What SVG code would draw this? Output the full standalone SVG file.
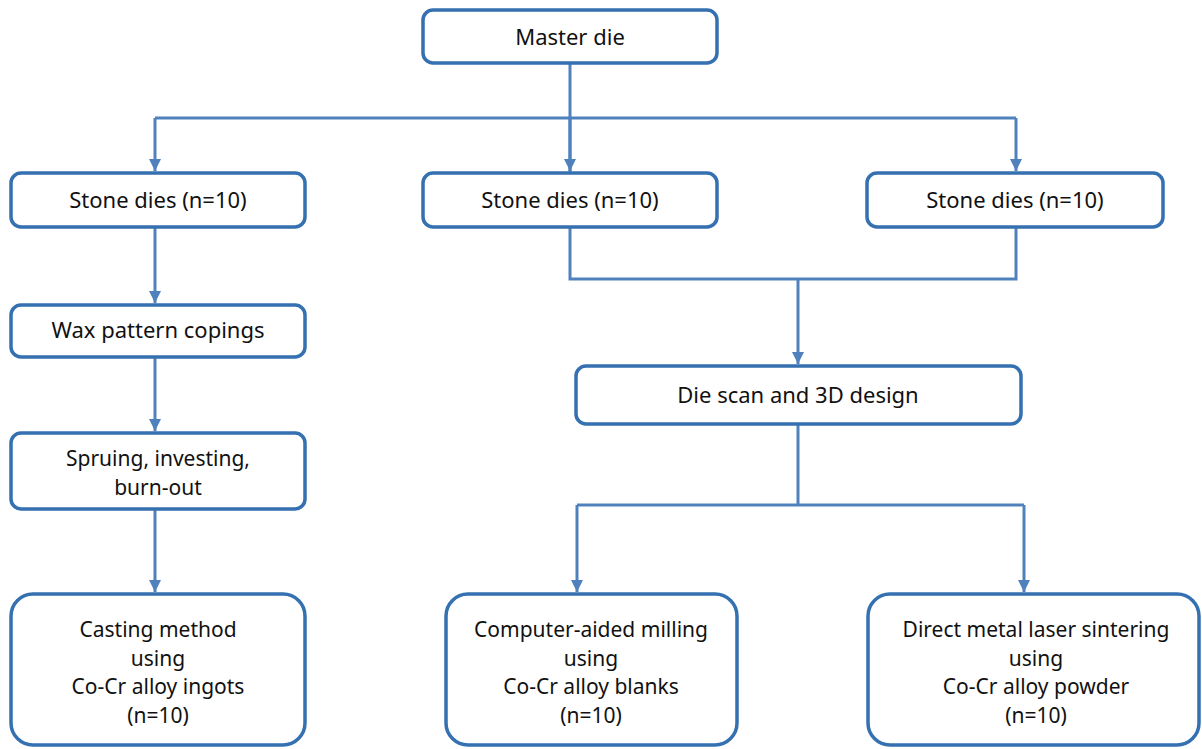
<svg xmlns="http://www.w3.org/2000/svg" width="1202" height="749" viewBox="0 0 1202 749">
<defs>
<marker id="ah" viewBox="0 0 10 10" refX="10" refY="5" markerWidth="4" markerHeight="4" orient="auto" markerUnits="strokeWidth">
<path d="M0,0 L10,5 L0,10 z" fill="#4f81bd"/>
</marker>
<style>
.box{fill:#ffffff;stroke:#3570b0;stroke-width:3.5}
.con{fill:none;stroke:#4f81bd;stroke-width:3}
text{font-family:"Noto Sans","Open Sans",sans-serif;font-size:22px;fill:#111;text-anchor:middle}
text.ml{font-size:21px}
</style>
</defs>
<rect width="1202" height="749" fill="#ffffff"/>
<g id="connectors">
<path class="con" d="M570,63 V173"/>
<path class="con" d="M155,118 H1016"/>
<path class="con" d="M155,118 V171" marker-end="url(#ah)"/>
<path class="con" d="M570,118 V171" marker-end="url(#ah)"/>
<path class="con" d="M1016,118 V171" marker-end="url(#ah)"/>
<path class="con" d="M155,227 V303" marker-end="url(#ah)"/>
<path class="con" d="M155,357 V431" marker-end="url(#ah)"/>
<path class="con" d="M155,509 V592" marker-end="url(#ah)"/>
<path class="con" d="M570,227 V279 H1016 V227"/>
<path class="con" d="M798,279 V364" marker-end="url(#ah)"/>
<path class="con" d="M798,424 V505"/>
<path class="con" d="M577,505 H1024"/>
<path class="con" d="M577,505 V592" marker-end="url(#ah)"/>
<path class="con" d="M1024,505 V592" marker-end="url(#ah)"/>
</g>
<g id="master-die">
<rect class="box" x="423" y="10" width="294" height="53" rx="10"/>
<text x="570" y="45">Master die</text>
</g>
<g id="stone-dies-1">
<rect class="box" x="11" y="173" width="294" height="54" rx="10"/>
<text x="158" y="208">Stone dies (n=10)</text>
</g>
<g id="stone-dies-2">
<rect class="box" x="423" y="173" width="294" height="54" rx="10"/>
<text x="570" y="208">Stone dies (n=10)</text>
</g>
<g id="stone-dies-3">
<rect class="box" x="867" y="173" width="296" height="54" rx="10"/>
<text x="1015" y="208">Stone dies (n=10)</text>
</g>
<g id="wax-pattern">
<rect class="box" x="11" y="305" width="294" height="52" rx="10"/>
<text x="158" y="338">Wax pattern copings</text>
</g>
<g id="spruing">
<rect class="box" x="11" y="433" width="294" height="76" rx="10"/>
<text class="ml" x="158" y="466">Spruing, investing,</text>
<text class="ml" x="158" y="494.5">burn-out</text>
</g>
<g id="casting">
<rect class="box" x="11" y="594" width="294" height="151" rx="22"/>
<text class="ml" x="158" y="637">Casting method</text>
<text class="ml" x="158" y="665.5">using</text>
<text class="ml" x="158" y="694">Co-Cr alloy ingots</text>
<text class="ml" x="158" y="722.5">(n=10)</text>
</g>
<g id="die-scan">
<rect class="box" x="576" y="366" width="445" height="58" rx="10"/>
<text x="798" y="403">Die scan and 3D design</text>
</g>
<g id="milling">
<rect class="box" x="446" y="594" width="291" height="151" rx="22"/>
<text class="ml" x="591" y="637">Computer-aided milling</text>
<text class="ml" x="591" y="665.5">using</text>
<text class="ml" x="591" y="694">Co-Cr alloy blanks</text>
<text class="ml" x="591" y="722.5">(n=10)</text>
</g>
<g id="dmls">
<rect class="box" x="868" y="594" width="331" height="151" rx="22"/>
<text class="ml" x="1036" y="637">Direct metal laser sintering</text>
<text class="ml" x="1036" y="665.5">using</text>
<text class="ml" x="1036" y="694">Co-Cr alloy powder</text>
<text class="ml" x="1036" y="722.5">(n=10)</text>
</g>
</svg>
